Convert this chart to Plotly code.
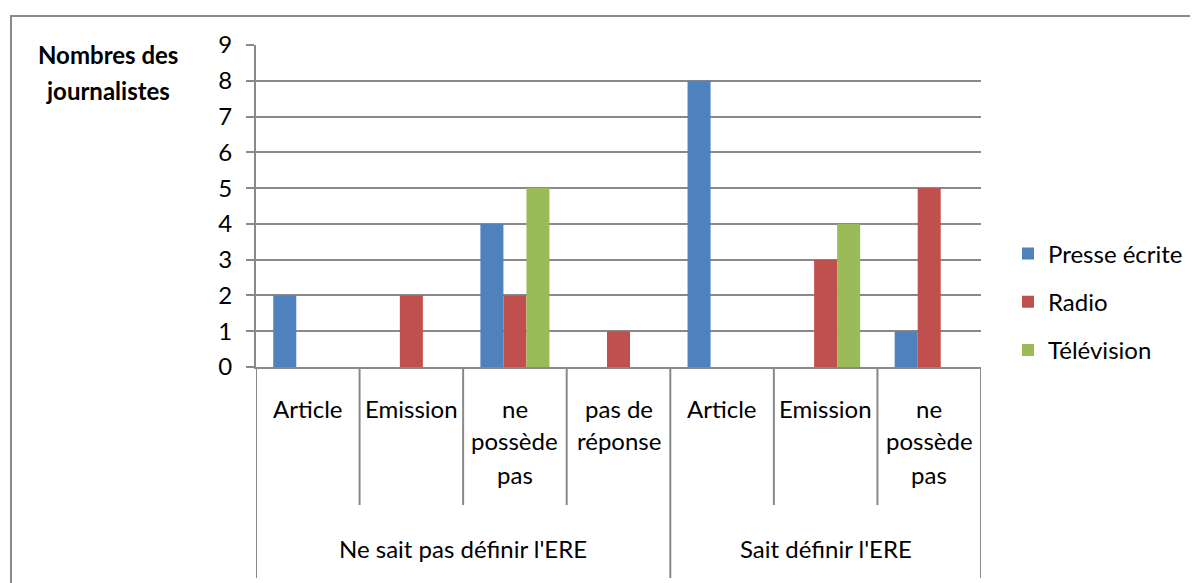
import plotly.graph_objects as go

# ---- data ----
outer_groups = ["Ne sait pas définir l'ERE", "Sait définir l'ERE"]
group_sizes = [4, 3]
inner_labels = ["Article", "Emission", "ne possède pas", "pas de réponse",
                "Article", "Emission", "ne possède pas"]
inner_lines = [["Article"], ["Emission"], ["ne", "possède", "pas"], ["pas de", "réponse"],
               ["Article"], ["Emission"], ["ne", "possède", "pas"]]
series_names = ["Presse écrite", "Radio", "Télévision"]
presse = [2, 0, 4, 0, 8, 0, 1]
radio = [0, 2, 2, 1, 0, 3, 5]
television = [0, 0, 5, 0, 0, 4, 0]
series_values = [presse, radio, television]
colors = ["#4F81BD", "#C0504D", "#9BBB59"]
y_ticks = list(range(0, 10))
y_title_lines = ["Nombres des", "journalistes"]

FONT = "Lato"
FS = 24
W, H = 1198, 583
OFF = 8                           # page body margin
L, R, T, B = 256, 981, 45, 367    # plot area in screen px
AXC = "#898989"

def py(ypx):
    return (B - ypx) / (B - T)

def px(xpx):
    return (xpx - L) / (R - L)

xs = list(range(len(inner_labels)))

fig = go.Figure()
for i, (name, vals) in enumerate(zip(series_names, series_values)):
    fig.add_trace(go.Bar(x=xs, y=vals, name=name, marker_color=colors[i],
                         marker_line_width=0, legendgroup=name))

annotations = []
shapes = []
# inner labels
for i, lines in enumerate(inner_lines):
    for k, line in enumerate(lines):
        annotations.append(dict(x=i, y=py(408 + 33 * k), xref="x", yref="paper",
                                text=line, showarrow=False, yanchor="middle",
                                font=dict(family=FONT, size=FS, color="black")))
# dividers and outer labels
start = -0.5
for gi, size in enumerate(group_sizes):
    end = start + size
    mid = (start + end) / 2
    annotations.append(dict(x=mid, y=py(548), xref="x", yref="paper",
                            text=outer_groups[gi], showarrow=False, yanchor="middle",
                            font=dict(family=FONT, size=FS, color="black")))
    for b in range(1, size):
        shapes.append(dict(type="line", xref="x", yref="paper", x0=start + b, x1=start + b,
                           y0=0, y1=py(505), line=dict(color=AXC, width=2)))
    shapes.append(dict(type="line", xref="x", yref="paper", x0=start, x1=start,
                       y0=0, y1=py(578), line=dict(color=AXC, width=2)))
    start = end
shapes.append(dict(type="line", xref="x", yref="paper", x0=start, x1=start,
                   y0=0, y1=py(578), line=dict(color=AXC, width=2)))

# y title
for k, line in enumerate(y_title_lines):
    annotations.append(dict(x=px(108), y=py(55 + 35 * k), xref="paper", yref="paper",
                            text="<b>" + line + "</b>", showarrow=False,
                            xanchor="center", yanchor="middle",
                            font=dict(family=FONT, size=FS, color="black")))

# outer border
shapes.append(dict(type="rect", xref="paper", yref="paper",
                   x0=px(11), x1=px(1215), y0=py(16), y1=py(600),
                   line=dict(color=AXC, width=2), fillcolor="rgba(0,0,0,0)"))

fig.update_layout(
    width=W, height=H,
    margin=dict(l=L - OFF, r=W - (R - OFF), t=T - OFF, b=H - (B - OFF), pad=0),
    plot_bgcolor="white", paper_bgcolor="white",
    barmode="group", bargap=1.5 / 4.5, bargroupgap=0,
    annotations=annotations, shapes=shapes,
    font=dict(family=FONT, size=FS, color="black"),
    legend=dict(x=px(1008), y=py(302), xanchor="left", yanchor="middle",
                font=dict(family=FONT, size=FS, color="black"),
                tracegroupgap=14, bgcolor="rgba(0,0,0,0)"),
    showlegend=True,
)
fig.update_xaxes(range=[-0.5, len(xs) - 0.5], showticklabels=False, showgrid=False,
                 zeroline=False, showline=True, linecolor=AXC, linewidth=2, ticks="")
fig.update_yaxes(range=[0, 9], tickvals=y_ticks, showgrid=True, gridcolor=AXC, gridwidth=2,
                 zeroline=False, showline=True, linecolor=AXC, linewidth=2,
                 ticks="outside", ticklen=8, tickcolor=AXC, tickwidth=2,
                 ticklabelstandoff=9,
                 tickfont=dict(family=FONT, size=FS, color="black"))

fig.write_html("out.html")
